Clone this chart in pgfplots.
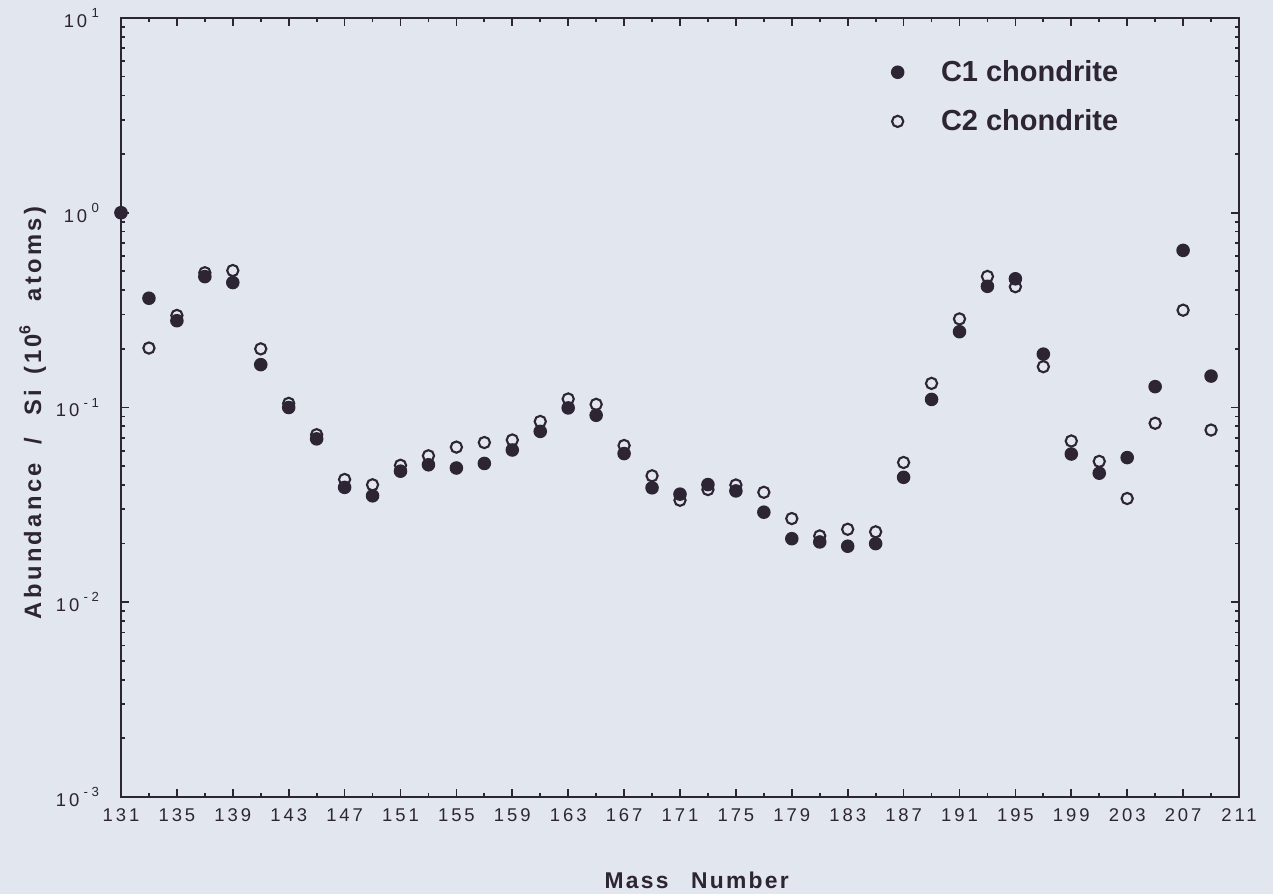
\documentclass[border=0pt]{standalone}
\usepackage{pgfplots}
\pgfplotsset{compat=1.18}
\usepackage{fontspec}
\setmainfont{Liberation Sans}
\newfontfamily\tickfont[LetterSpace=16]{Liberation Sans}
\newfontfamily\labfont[LetterSpace=10]{Liberation Sans}
\newfontfamily\ylabfont[LetterSpace=14]{Liberation Sans}

\definecolor{bg}{RGB}{226,230,239}
\definecolor{ink}{RGB}{45,36,52}

% superscript for the decade labels
\newcommand\sexp[1]{\raisebox{5.5pt}{\fontsize{7.5}{8}\selectfont #1}}

% mass number, C1, C2 (abundance / Si, 10^6 atoms)
\pgfplotstableread{
m c1 c2
131 1.0 1.0
133 0.364 0.202
135 0.279 0.297
137 0.470 0.492
139 0.438 0.505
141 0.166 0.200
143 0.100 0.105
145 0.069 0.0725
147 0.0389 0.0427
149 0.0352 0.0401
151 0.0471 0.0505
153 0.0508 0.0565
155 0.0489 0.0626
157 0.0516 0.0661
159 0.0605 0.0681
161 0.0754 0.0848
163 0.0995 0.1106
165 0.0912 0.1038
167 0.0580 0.0638
169 0.0387 0.0446
171 0.0359 0.0334
173 0.0402 0.0379
175 0.0373 0.0400
177 0.0290 0.0367
179 0.0212 0.0269
181 0.0204 0.0219
183 0.0194 0.0237
185 0.0200 0.0230
187 0.0438 0.0522
189 0.110 0.133
191 0.245 0.285
193 0.419 0.471
195 0.458 0.417
197 0.188 0.162
199 0.0577 0.0673
201 0.0460 0.0529
203 0.0553 0.0341
205 0.128 0.083
207 0.641 0.316
209 0.145 0.0766
}\abund

\begin{document}
\begin{tikzpicture}
\fill[bg] (0,0) rectangle (254.6mm,178.8mm);
\begin{axis}[
  at={(24.2mm,19.4mm)}, anchor=south west,
  scale only axis, width=223.6mm, height=155.8mm,
  xmin=131, xmax=211,
  ymode=log, ymin=1e-3, ymax=10,
  xtick={131,135,...,211},
  minor xtick={133,137,...,209},
  ytick={1e-3,1e-2,1e-1,1,10},
  yticklabels={{10\hspace{2.5pt}\sexp{-\hspace{2pt}3}},{10\hspace{2.5pt}\sexp{-\hspace{2pt}2}},{10\hspace{2.5pt}\sexp{-\hspace{2pt}1}},{10\hspace{2.5pt}\sexp{0}},{10\hspace{2.5pt}\sexp{1}}},
  /pgf/number format/assume math mode=true,
  /pgf/number format/set thousands separator={},
  tick align=inside,
  major tick length=1.6mm, minor tick length=0.8mm,
  axis line style={ink, line width=1.3pt},
  every tick/.style={ink, line width=1pt},
  ticklabel style={font=\tickfont\fontsize{10.5}{12}\selectfont, text=ink},
  xticklabel style={yshift=-3pt},
  yticklabel style={xshift=-9pt},
  xlabel={\labfont\bfseries Mass\hspace{4.5mm}Number},
  ylabel={\ylabfont\bfseries Abundance\hspace{3.8mm}/\hspace{4.4mm}Si\hspace{3mm}(10\raisebox{6pt}{\fontsize{9}{10}\selectfont 6}\hspace{4.8mm}atoms)},
  xlabel style={font=\fontsize{13}{15}\selectfont, text=ink,
    at={(axis description cs:0.515,-0.107)}, anchor=center},
  ylabel style={font=\fontsize{13.5}{15}\selectfont, text=ink,
    at={(axis description cs:-0.079,0.493)}, anchor=center, rotate=0},
  clip=false,
  reverse legend,
  legend cell align=left,
  legend image code/.code={\draw[#1] plot coordinates {(0cm,0cm)};},
  legend style={at={(axis description cs:0.6845,0.955)}, anchor=north west,
    draw=none, fill=none, text=ink, row sep=10.5pt, column sep=6.8mm,
    font=\bfseries\fontsize{16.5}{18}\selectfont},
]
\addplot[only marks, mark=*, mark size=3.2pt,
  mark options={draw=ink, fill=bg, line width=1.2pt}] table[x=m, y=c2] {\abund};
\addlegendentry{C2 chondrite}
\addplot[only marks, mark=*, mark size=3.3pt,
  mark options={draw=ink, fill=ink, line width=1.1pt}] table[x=m, y=c1] {\abund};
\addlegendentry{C1 chondrite}
\end{axis}
\pgfresetboundingbox
\path (0,0) rectangle (254.6mm,178.8mm);
\end{tikzpicture}
\end{document}
